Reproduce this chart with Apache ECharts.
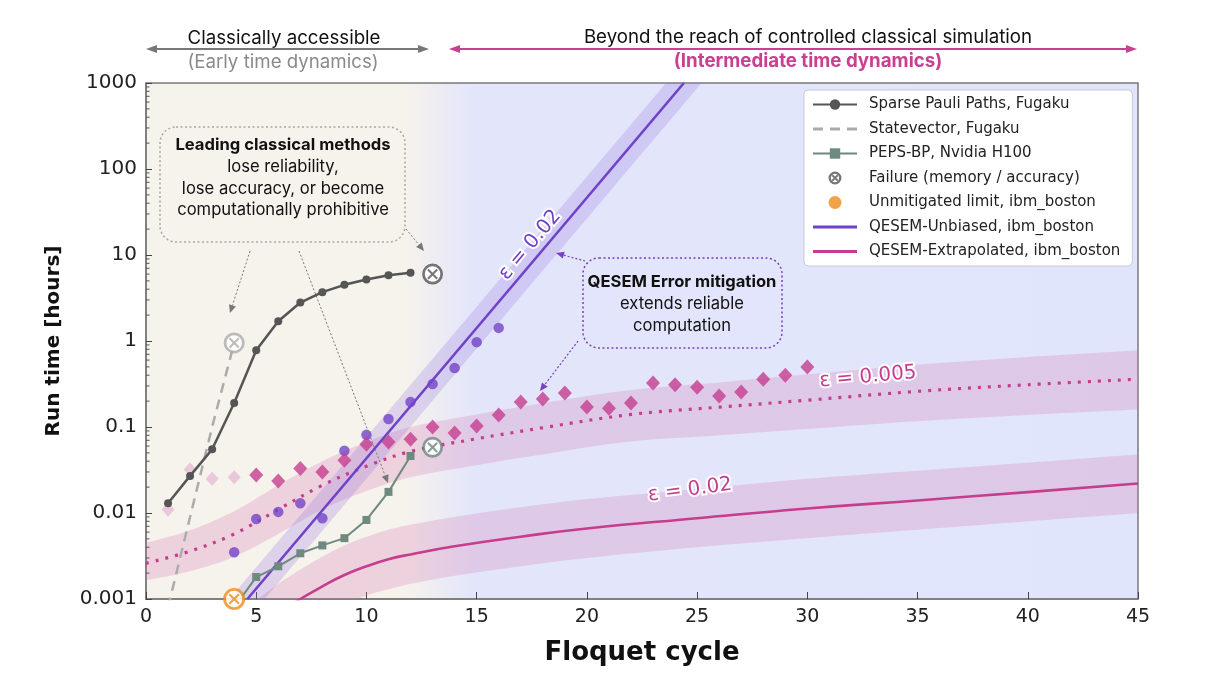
<!DOCTYPE html>
<html><head><meta charset="utf-8">
<script src="https://cdn.jsdelivr.net/npm/echarts@6/dist/echarts.min.js"></script>
<style>html,body{margin:0;padding:0;background:#fff}#c{width:1226px;height:690px}</style>
</head><body><div id="c"></div>
<script>
// ---------- data ----------
const yTickLabels = ['0.001','0.01','0.1','1','10','100','1000'];
const xTickLabels = ['0','5','10','15','20','25','30','35','40','45'];

const sppX = [1,2,3,4,5,6,7,8,9,10,11,12];
const sppY = [0.013,0.027,0.055,0.19,0.78,1.7,2.8,3.7,4.5,5.2,5.8,6.2];

const svX = [1,2,3,4];
const svY = [0.0008,0.009,0.1,0.95];

const pepsX = [4,5,6,7,8,9,10,11,12];
const pepsY = [0.0008,0.0018,0.0024,0.0034,0.0042,0.0051,0.0083,0.0176,0.046];

const failX = [13,4,13];
const failY = [6.0,0.95,0.058];
const failColors = ['#555555','#ababab','#6e8a80'];

const unmitX = [4];
const unmitY = [0.001];

const unbX = [4,5,6,7,8,9,10,11,12,13,14,15,16];
const unbY = [0.0035,0.0085,0.0103,0.013,0.0087,0.053,0.081,0.124,0.195,0.316,0.485,0.97,1.42];

const unbFitX = [4.6,24.4];
const unbFitY = [0.001,1000];
const unbBandX = [3,27];
const unbBandUp = [0.00058,10800];
const unbBandLo = [0.00019,3500];

const extLightX = [1,2,3,4];
const extLightY = [0.011,0.032,0.025,0.026];
const extX = [5,6,7,8,9,10,11,12,13,14,15,16,17,18,19,20,21,22,23,24,25,26,27,28,29,30];
const extY = [0.0277,0.0236,0.033,0.030,0.041,0.063,0.067,0.072,0.10,0.085,0.103,0.138,0.195,0.212,0.248,0.171,0.165,0.19,0.325,0.31,0.29,0.23,0.255,0.36,0.40,0.50];

const dotX  = [0,2,4,6,8,10,12,15,18,22,26,30,35,40,45];
const dotY  = [0.0026,0.0036,0.0057,0.011,0.021,0.035,0.052,0.073,0.098,0.14,0.17,0.205,0.26,0.31,0.36];
const dotUp = [0.0045,0.0063,0.0105,0.021,0.04,0.067,0.1,0.14,0.19,0.27,0.33,0.41,0.53,0.65,0.78];
const dotLo = [0.00165,0.0021,0.0031,0.0057,0.011,0.018,0.026,0.036,0.048,0.068,0.08,0.095,0.117,0.138,0.16];

const solX  = [3,4,5,6,7,8,9,10,11,12,14,17,20,25,30,35,40,45];
const solY  = [0.00017,0.00028,0.00044,0.00068,0.001,0.0014,0.0019,0.0024,0.0029,0.0033,0.0041,0.0053,0.0066,0.0087,0.0113,0.014,0.0175,0.022];
const solUp = [0.00037,0.00062,0.00097,0.0015,0.0022,0.0031,0.0042,0.0053,0.0064,0.0073,0.009,0.0117,0.0145,0.019,0.025,0.031,0.0385,0.048];
const solLo = [0.000077,0.000127,0.0002,0.00031,0.00045,0.00064,0.00086,0.0011,0.0013,0.0015,0.00186,0.0024,0.003,0.004,0.0051,0.0064,0.008,0.01];

const legendNames = ['Sparse Pauli Paths, Fugaku','Statevector, Fugaku','PEPS-BP, Nvidia H100','Failure (memory / accuracy)','Unmitigated limit, ibm_boston','QESEM-Unbiased, ibm_boston','QESEM-Extrapolated, ibm_boston'];

// ---------- helpers ----------
const zip = (xs, ys) => xs.map((x,i)=>[x,ys[i]]);
const OTIMES = 'path://M50,0 A50,50 0 1,1 49.99,0 Z M50,13 A37,37 0 1,0 50.01,13 Z M31.5,24.5 L75.5,68.5 L68.5,75.5 L24.5,31.5 Z M75.5,31.5 L31.5,75.5 L24.5,68.5 L68.5,24.5 Z';
const OTIMES_BOLD = 'path://M50,0 A50,50 0 1,1 49.99,0 Z M50,18 A32,32 0 1,0 50.01,18 Z M34,24 L76,66 L66,76 L24,34 Z M76,34 L34,76 L24,66 L66,24 Z';
const ICON_LINE = 'path://M0,0 L44,0 L44,3 L0,3 Z';
const ICON_DASH = 'path://M0,0 L10,0 L10,3 L0,3 Z M17,0 L27,0 L27,3 L17,3 Z M34,0 L44,0 L44,3 L34,3 Z';
const PURPLE = '#6f42c8', MAG = '#c63d8e', TEAL = '#6e8a80';

// Catmull-Rom sampling in pixel space (rendering only)
function smoothPts(pts){
  const out = [pts[0]];
  for (let i=0;i<pts.length-1;i++){
    const p0=pts[i-1]||pts[i], p1=pts[i], p2=pts[i+1], p3=pts[i+2]||p2;
    for (let k=1;k<=10;k++){
      const t=k/10, t2=t*t, t3=t2*t;
      const f=(a,b,c,d)=>0.5*((2*b)+(-a+c)*t+(2*a-5*b+4*c-d)*t2+(-a+3*b-3*c+d)*t3);
      out.push([f(p0[0],p1[0],p2[0],p3[0]), f(p0[1],p1[1],p2[1],p3[1])]);
    }
  }
  return out;
}
function clipAxis(pts, ax, c, keepGreater){
  const out=[], n=pts.length;
  const inside = p => keepGreater ? p[ax]>=c : p[ax]<=c;
  const inter = (a,b) => { const t=(c-a[ax])/(b[ax]-a[ax]); return [a[0]+t*(b[0]-a[0]), a[1]+t*(b[1]-a[1])]; };
  for (let i=0;i<n;i++){
    const cur=pts[i], prev=pts[(i-1+n)%n];
    if (inside(cur)) { if (!inside(prev)) out.push(inter(prev,cur)); out.push(cur); }
    else if (inside(prev)) out.push(inter(prev,cur));
  }
  return out;
}
function clipRect(pts, r){
  let p = clipAxis(pts,0,r.x,true); p = clipAxis(p,0,r.x+r.width,false);
  p = clipAxis(p,1,r.y,true); p = clipAxis(p,1,r.y+r.height,false);
  return p;
}
function band(name, xs, lo, up, color){
  return {type:'custom', name, silent:true, clip:true, z:1, data:[[xs[0], up[0]]],
    renderItem:(params, api)=>{
      const U = smoothPts(xs.map((x,i)=>api.coord([x, up[i]])));
      const L = smoothPts(xs.map((x,i)=>api.coord([x, lo[i]])).reverse());
      const poly = clipRect(U.concat(L), params.coordSys);
      return {type:'polygon', shape:{points:poly}, style:{fill:color}};
    }};
}

const minorVals = [];
for (let d=-3; d<3; d++) for (let m=2; m<10; m++) minorVals.push(m*Math.pow(10,d));

function arrow(x1,y1,x2,y2,color,dash,w,head){
  const a = Math.atan2(y2-y1, x2-x1), h = head||8, s = h*0.45;
  const bx = x2 - h*Math.cos(a), by = y2 - h*Math.sin(a);
  return [
    {type:'line', shape:{x1,y1,x2:bx,y2:by}, style:{stroke:color, lineWidth:w, lineDash:dash}, silent:true},
    {type:'polygon', shape:{points:[[x2,y2],[bx - s*Math.sin(a), by + s*Math.cos(a)],[bx + s*Math.sin(a), by - s*Math.cos(a)]]}, style:{fill:color}, silent:true}
  ];
}
function dblArrow(x1,x2,y,color){
  return [
    {type:'line', shape:{x1:x1+8,y1:y,x2:x2-8,y2:y}, style:{stroke:color, lineWidth:1.8}, silent:true},
    {type:'polygon', shape:{points:[[x1,y],[x1+11,y-4],[x1+11,y+4]]}, style:{fill:color}, silent:true},
    {type:'polygon', shape:{points:[[x2,y],[x2-11,y-4],[x2-11,y+4]]}, style:{fill:color}, silent:true}
  ];
}
const F = 'Inter, "Noto Sans", sans-serif';
function txt(x,y,t,size,color,weight){
  return {type:'text', x, y, silent:true, style:{text:t, fill:color, font:(weight||'normal')+' '+size+'px '+F, align:'center', verticalAlign:'middle'}};
}
function curveLabel(x,y,t,color,rot){
  return {type:'text', x, y, rotation:rot, silent:true, style:{text:t, fill:color, stroke:'#fff', lineWidth:4, font:'20px "DejaVu Sans"', align:'center', verticalAlign:'middle'}, z:100};
}

const graphics = [].concat(
  [txt(284,38,'Classically accessible',18.7,'#111')],
  dblArrow(146,429,49,'#777'),
  [txt(283,62,'(Early time dynamics)',18.7,'#8a8a8a')],
  dblArrow(449,1137,49,'#c8408f'),
  [txt(808,37,'Beyond the reach of controlled classical simulation',18.7,'#111')],
  [txt(808,61,'(Intermediate time dynamics)',18.7,'#c8408f','bold')],
  [{type:'rect', shape:{x:160,y:127,width:245,height:115,r:16}, style:{fill:'rgba(246,242,236,0.7)', stroke:'#a8a8a8', lineWidth:1.5, lineDash:[2,2.5]}, silent:true, z:50}],
  [txt(283,145,'Leading classical methods',16.6,'#111','bold'), txt(283,167,'lose reliability,',16.6,'#111'), txt(283,189,'lose accuracy, or become',16.6,'#111'), txt(283,210,'computationally prohibitive',16.6,'#111')],
  arrow(250,251,230,313,'#777',[2,2],1,8),
  arrow(299,251,388,483,'#777',[2,2],1,8),
  arrow(406,229,424,251,'#777',[2,2],1,8),
  [{type:'rect', shape:{x:583,y:258,width:199,height:90,r:16}, style:{fill:'rgba(226,230,251,0.3)', stroke:'#7b3fbf', lineWidth:1.5, lineDash:[2,2.5]}, silent:true, z:50}],
  [txt(682,282,'QESEM Error mitigation',16.6,'#111','bold'), txt(682,304,'extends reliable',16.6,'#111'), txt(682,326,'computation',16.6,'#111')],
  arrow(585,261,556,253,'#7b3fbf',[2,2],1.2,8),
  arrow(578,341,540,391,'#7b3fbf',[2,2],1.2,8),
  [curveLabel(530,245,'ε = 0.02',PURPLE,0.87), curveLabel(868,377,'ε = 0.005',MAG,0.09), curveLabel(690,490,'ε = 0.02',MAG,0.13)]
);
graphics.forEach(g=>{ if(g.z===undefined) g.z = 100; });

const chart = echarts.init(document.getElementById('c'), null, {renderer:'canvas'});
const option = {
  animation:false,
  backgroundColor:'#ffffff',
  grid:{left:146, right:88, top:83, bottom:91, show:true, borderColor:'#7a7a7a', borderWidth:1.5,
    backgroundColor:{type:'linear', x:0, y:0, x2:1, y2:0, colorStops:[
      {offset:0, color:'#f6f2ec'},{offset:0.262, color:'#f6f2ec'},{offset:0.33, color:'#e3e6fb'},{offset:1, color:'#e1e5fb'}]}},
  xAxis:{type:'value', min:0, max:45, interval:5,
    axisLine:{lineStyle:{color:'#7a7a7a', width:1.5}},
    axisTick:{inside:true, length:7, lineStyle:{color:'#444'}},
    axisLabel:{fontSize:19, color:'#222', fontFamily:'"DejaVu Sans"', margin:9,
      formatter:(v)=>xTickLabels[Math.round(v/5)]},
    splitLine:{show:false},
    name:'Floquet cycle', nameLocation:'middle', nameGap:41,
    nameTextStyle:{fontSize:26, fontWeight:'bold', color:'#111', fontFamily:'"DejaVu Sans"'}},
  yAxis:{type:'log', logBase:10, min:0.001, max:1000,
    axisLine:{show:true, lineStyle:{color:'#7a7a7a', width:1.5}},
    axisTick:{inside:true, length:6, lineStyle:{color:'#444'}},
    axisLabel:{fontSize:20, color:'#222', fontFamily:'"DejaVu Sans"', margin:9,
      formatter:(v)=>yTickLabels[Math.round(Math.log10(v))+3]},
    splitLine:{show:false},
    name:'Run time [hours]', nameLocation:'middle', nameGap:82,
    nameTextStyle:{fontSize:20, fontWeight:'bold', color:'#111', fontFamily:'"DejaVu Sans"'}},
  legend:{orient:'vertical', left:804, top:90, itemWidth:44, itemHeight:13, itemGap:9.5,
    backgroundColor:'#ffffff', borderColor:'#c9c9d6', borderWidth:1, borderRadius:4, padding:[7,12,7,8],
    textStyle:{fontFamily:'"DejaVu Sans"', fontSize:15, color:'#222', padding:[0,0,0,7]},
    data:[
      {name:legendNames[0]},
      {name:legendNames[1], icon:ICON_DASH},
      {name:legendNames[2]},
      {name:legendNames[3], icon:OTIMES_BOLD, itemStyle:{color:'#555'}},
      {name:legendNames[4], icon:'circle'},
      {name:legendNames[5], icon:ICON_LINE},
      {name:legendNames[6], icon:ICON_LINE}
    ], selectedMode:false},
  graphic: graphics,
  series: [
      band('dotBand', dotX, dotLo, dotUp, 'rgba(214,120,176,0.26)'),
      band('solBand', solX, solLo, solUp, 'rgba(214,120,176,0.26)'),
      band('unbBand', unbBandX, unbBandLo, unbBandUp, 'rgba(150,120,225,0.26)'),
      {type:'custom', name:'minorTicks', silent:true, z:20, data:[[0,1]],
        renderItem:(params, api)=>({type:'group', children: minorVals.map(v=>{const p=api.coord([0,v]); return {type:'line', shape:{x1:p[0],y1:p[1],x2:p[0]+3.5,y2:p[1]}, style:{stroke:'#555', lineWidth:1}};})})},
      {name:'QESEM-Extrapolated, ibm_boston', type:'line', data: zip(solX, solY), smooth:0.5, symbol:'none', lineStyle:{color:MAG, width:2.6}, itemStyle:{color:MAG}, z:3},
      {name:'dotCurve', type:'line', data: zip(dotX, dotY), smooth:0.35, symbol:'none', lineStyle:{color:MAG, width:3.2, type:[3,7]}, z:3},
      {name:'QESEM-Unbiased, ibm_boston', type:'line', data: zip(unbFitX, unbFitY), symbol:'none', lineStyle:{color:PURPLE, width:2.6}, itemStyle:{color:PURPLE}, z:3},
      {name:'unbPts', type:'scatter', data: zip(unbX, unbY), symbol:'circle', symbolSize:10.5, itemStyle:{color:'#7444c8'}, z:4},
      {name:'extLight', type:'scatter', data: zip(extLightX, extLightY), symbol:'diamond', symbolSize:[13,14], itemStyle:{color:'#e6bdd6'}, z:4},
      {name:'extPts', type:'scatter', data: zip(extX, extY), symbol:'diamond', symbolSize:[14,15], itemStyle:{color:MAG}, z:4},
      {name:'PEPS-BP, Nvidia H100', type:'line', data: zip(pepsX, pepsY), symbol:'rect', symbolSize:8, lineStyle:{color:TEAL, width:2}, itemStyle:{color:TEAL}, z:5},
      {name:'Statevector, Fugaku', type:'line', data: zip(svX, svY), symbol:'none', lineStyle:{color:'#ababab', width:2.5, type:[10,7]}, itemStyle:{color:'#ababab'}, z:5},
      {name:'Sparse Pauli Paths, Fugaku', type:'line', data: zip(sppX, sppY), symbol:'circle', symbolSize:8, lineStyle:{color:'#555', width:2.5}, itemStyle:{color:'#555'}, z:6},
      {name:'failBg', type:'scatter', data: zip(failX.concat(unmitX), failY.concat(unmitY)), symbol:'circle', symbolSize:17, itemStyle:{color:'#ffffff', opacity:0.85}, z:7, silent:true, clip:false},
      {name:'Failure (memory / accuracy)', type:'scatter', data: failX.map((x,i)=>({value:[x,failY[i]], itemStyle:{color:failColors[i]}})), symbol:OTIMES, symbolSize:21, itemStyle:{color:'#555'}, z:8, clip:false},
      {name:'Unmitigated limit, ibm_boston', type:'scatter', data: zip(unmitX, unmitY), symbol:OTIMES, symbolSize:22, itemStyle:{color:'#ef8c1c'}, z:8, clip:false}
  ]
};
chart.setOption(option);
</script>
</body></html>
